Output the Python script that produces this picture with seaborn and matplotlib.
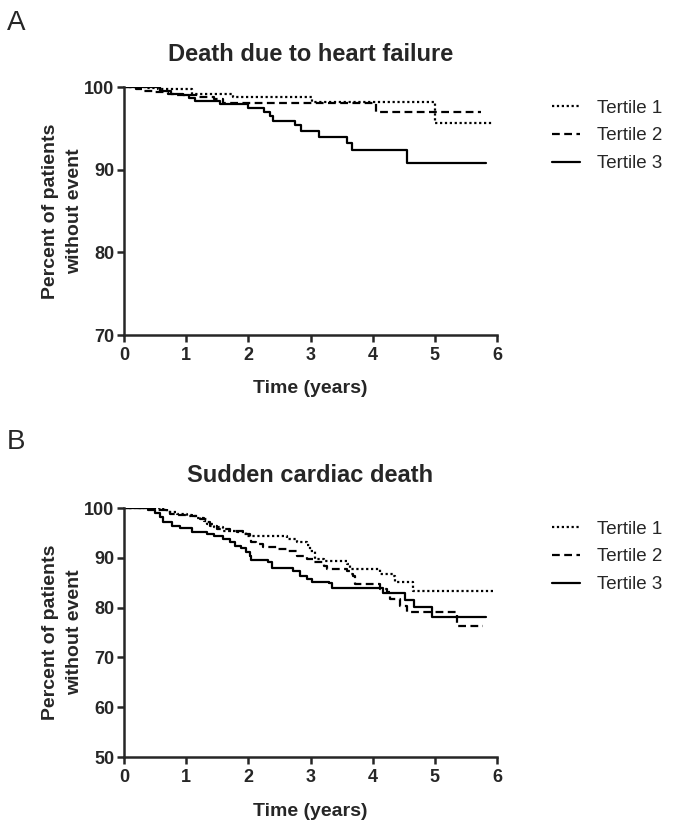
import numpy as np
import pandas as pd
import seaborn as sns
import matplotlib
matplotlib.use("Agg")
import matplotlib.pyplot as plt

# panel A: death due to heart failure (step-post survival, %)
hf_t1_time = [0, 0.35, 0.55, 1.09, 1.76, 3.02, 5.0, 5.94]
hf_t1_surv = [100, 99.9, 99.76, 99.15, 98.75, 98.23, 95.6, 95.6]
hf_t2_time = [0, 0.2, 0.3, 0.5, 0.7, 0.85, 1.2, 1.45, 1.6, 4.06, 5.75]
hf_t2_surv = [100, 99.8, 99.5, 99.4, 99.2, 99.0, 98.8, 98.5, 98.02, 97.01, 97.01]
hf_t3_time = [0, 0.58, 0.75, 0.95, 1.05, 1.14, 1.54, 2.0, 2.25, 2.35,
              2.4, 2.75, 2.84, 3.13, 3.58, 3.66, 4.56, 5.83]
hf_t3_surv = [100, 99.5, 99.2, 99.0, 98.7, 98.35, 97.94, 97.5, 96.94, 96.49,
              95.93, 95.4, 94.68, 94.0, 93.19, 92.38, 90.77, 90.77]

# panel B: sudden cardiac death
scd_t1_time = [0, 0.58, 0.69, 0.85, 1.01, 1.17, 1.28, 1.33, 1.44, 1.60,
               1.81, 1.97, 2.13, 2.62, 2.78, 2.94, 2.99, 3.07, 3.21, 3.58,
               3.64, 4.12, 4.33, 4.36, 4.65, 5.97]
scd_t1_surv = [100, 99.8, 99.26, 98.8, 98.46, 97.93, 97.46, 96.79, 96.12, 95.45,
               95.12, 94.44, 94.31, 93.78, 93.1, 92.57, 91.43, 89.76, 89.42, 88.76,
               87.75, 86.75, 86.28, 85.2, 83.4, 83.4]
scd_t2_time = [0, 0.5, 0.74, 0.87, 1.09, 1.22, 1.33, 1.38, 1.49, 1.71,
               1.92, 2.03, 2.05, 2.13, 2.24, 2.46, 2.62, 2.78, 2.94, 3.05,
               3.21, 3.26, 3.58, 3.64, 3.69, 3.72, 4.12, 4.23, 4.28, 4.44,
               4.55, 5.35, 5.78]
scd_t2_surv = [100, 99.7, 98.8, 98.6, 98.33, 97.8, 97.13, 96.32, 95.78, 95.45,
               94.78, 94.11, 93.24, 92.77, 92.1, 91.77, 91.43, 90.43, 89.76, 89.1,
               88.42, 87.75, 87.42, 86.75, 86.28, 84.74, 83.73, 83.07, 81.73, 80.4,
               79.06, 76.37, 76.37]
scd_t3_time = [0, 0.39, 0.5, 0.58, 0.63, 0.77, 0.90, 1.09, 1.33, 1.44,
               1.60, 1.71, 1.79, 1.89, 1.97, 2.03, 2.05, 2.32, 2.38, 2.72,
               2.83, 2.94, 3.02, 3.29, 3.34, 4.17, 4.52, 4.66, 4.95, 5.83]
scd_t3_surv = [100, 99.66, 99.0, 98.13, 97.13, 96.45, 95.91, 95.25, 94.78, 94.31,
               93.78, 93.1, 92.43, 91.9, 91.23, 90.43, 89.62, 89.1, 87.95, 87.42,
               86.41, 85.74, 85.07, 84.87, 83.94, 82.93, 81.59, 80.06, 78.17, 78.17]

group_names = ["Tertile 1", "Tertile 2", "Tertile 3"]
x_ticks = [0, 1, 2, 3, 4, 5, 6]

sns.set_style("ticks")
plt.rcParams["font.family"] = ["Liberation Sans", "DejaVu Sans"]
plt.rcParams["axes.linewidth"] = 1.8

fig = plt.figure(figsize=(6.75, 8.27), dpi=100)

panels = [
    ("A", "Death due to heart failure",
     [(hf_t1_time, hf_t1_surv), (hf_t2_time, hf_t2_surv), (hf_t3_time, hf_t3_surv)],
     [70, 80, 90, 100], [0.1837, 0.5949, 0.5526, 0.2999], 0.988),
    ("B", "Sudden cardiac death",
     [(scd_t1_time, scd_t1_surv), (scd_t2_time, scd_t2_surv), (scd_t3_time, scd_t3_surv)],
     [50, 60, 70, 80, 90, 100], [0.1837, 0.0846, 0.5526, 0.3011], 0.481),
]
styles = [(0, (1, 1.2)), (0, (3.5, 2)), "-"]

for letter, title, series, y_ticks, rect, letter_y in panels:
    ax = fig.add_axes(rect)
    for (t, s), name, ls in zip(series, group_names, styles):
        df = pd.DataFrame({"time": t, "surv": s})
        sns.lineplot(data=df, x="time", y="surv", ax=ax, estimator=None,
                     drawstyle="steps-post", color="black", linestyle=ls,
                     linewidth=1.6, label=name)
    ax.set_xlim(0, 6)
    ax.set_ylim(y_ticks[0], y_ticks[-1])
    ax.set_xticks(x_ticks)
    ax.set_yticks(y_ticks)
    sns.despine(ax=ax)
    ax.tick_params(axis="both", length=5, width=1.8, labelsize=13, pad=2)
    ax.tick_params(axis="x", pad=3.5)
    for lab in ax.get_xticklabels() + ax.get_yticklabels():
        lab.set_fontweight("bold")
    ax.set_xlabel("Time (years)", fontsize=14, fontweight="bold", labelpad=12)
    ax.set_ylabel("Percent of patients\nwithout event", fontsize=14,
                  fontweight="bold", labelpad=0.5, linespacing=1.55)
    ax.set_title(title, fontsize=17, fontweight="bold", pad=19)
    ax.legend(loc="upper left", bbox_to_anchor=(1.147, 0.95), frameon=False,
              fontsize=13.5, handlelength=1.5, handletextpad=0.9,
              labelspacing=0.57, borderaxespad=0, borderpad=0)
    fig.text(0.010, letter_y, letter, fontsize=20, ha="left", va="top")

fig.savefig("out.png", dpi=100)
